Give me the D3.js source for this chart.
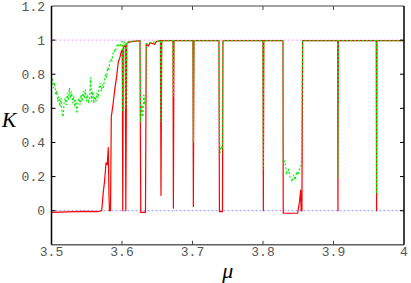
<!DOCTYPE html>
<html>
<head>
<meta charset="utf-8">
<script src="https://cdn.jsdelivr.net/npm/d3@7"></script>
<style>
  body { margin: 0; background: #fff; }
  svg { display: block; }
</style>
</head>
<body>
<svg id="chart"></svg>
<script>
const width = 411
const height = 283

// tick labels
const xTicks = [3.5, 3.6, 3.7, 3.8, 3.9, 4]
const yTicks = [0, 0.2, 0.4, 0.6, 0.8, 1, 1.2]

// red series (solid)
const muRed = [3.5000, 3.5447, 3.5664, 3.5712, 3.5735, 3.5752, 3.5773, 3.5791, 3.5805, 3.5815,
  3.5822, 3.5837, 3.5848, 3.5872, 3.5900, 3.5925, 3.5947, 3.5971, 3.5995, 3.6004,
  3.6011, 3.6018, 3.6047, 3.6054, 3.6066, 3.6113, 3.6255, 3.6266, 3.6333, 3.6344,
  3.6373, 3.6397, 3.6468, 3.6482, 3.6546, 3.6553, 3.6563, 3.6723, 3.6729, 3.6737,
  3.7006, 3.7012, 3.7021, 3.7375, 3.7382, 3.7425, 3.7432, 3.7999, 3.8005, 3.8011,
  3.8283, 3.8287, 3.8491, 3.8517, 3.8534, 3.8541, 3.8552, 3.8562, 3.9058, 3.9063,
  3.9068, 3.9607, 3.9611, 3.9616, 4.0000]
const kRed = [-0.010, -0.004, -0.005, 0.00, 0.11, 0.17, 0.28, 0.27, 0.37, 0.10,
  0.00, 0.00, 0.55, 0.62, 0.72, 0.79, 0.87, 0.90, 0.94, 0.94,
  0.00, 0.96, 0.97, 0.00, 0.98, 0.99, 0.997, -0.010, -0.010, 0.98,
  0.965, 0.985, 0.975, 0.99, 0.997, 0.09, 0.997, 0.997, 0.015, 0.997,
  0.997, 0.025, 0.997, 0.997, -0.005, -0.005, 0.997, 0.997, 0.00, 0.997,
  0.997, -0.015, -0.015, 0.05, 0.12, 0.00, 0.00, 0.997, 0.997, 0.00,
  0.997, 0.997, 0.00, 0.997, 0.997]

// green series (dashed)
const muGreen = [3.5000, 3.5015, 3.5030, 3.5045, 3.5060, 3.5075, 3.5090, 3.5105, 3.5120, 3.5135,
  3.5150, 3.5165, 3.5180, 3.5195, 3.5210, 3.5225, 3.5240, 3.5255, 3.5270, 3.5285,
  3.5300, 3.5315, 3.5330, 3.5345, 3.5360, 3.5375, 3.5390, 3.5405, 3.5420, 3.5435,
  3.5450, 3.5465, 3.5480, 3.5495, 3.5510, 3.5525, 3.5540, 3.5555, 3.5570, 3.5585,
  3.5600, 3.5615, 3.5630, 3.5645, 3.5660, 3.5675, 3.5690, 3.5705, 3.5720, 3.5735,
  3.5750, 3.5767, 3.5782, 3.5797, 3.5812, 3.5827, 3.5842, 3.5857, 3.5872, 3.5887,
  3.5902, 3.5917, 3.5932, 3.5947, 3.5962, 3.5977, 3.5992, 3.6004, 3.6011, 3.6018,
  3.6047, 3.6054, 3.6066, 3.6255, 3.6266, 3.6280, 3.6294, 3.6308, 3.6322, 3.6336,
  3.6344, 3.6546, 3.6553, 3.6563, 3.6723, 3.6729, 3.6737, 3.7006, 3.7012, 3.7021,
  3.7375, 3.7382, 3.7396, 3.7410, 3.7425, 3.7432, 3.7999, 3.8005, 3.8011, 3.8283,
  3.8287, 3.8308, 3.8336, 3.8364, 3.8386, 3.8417, 3.8436, 3.8457, 3.8478, 3.8500,
  3.8521, 3.8545, 3.8562, 3.9058, 3.9063, 3.9068, 3.9607, 3.9611, 3.9616, 4.0000]
const kGreen = [0.74, 0.78, 0.72, 0.75, 0.68, 0.70, 0.64, 0.67, 0.61, 0.66,
  0.58, 0.55, 0.64, 0.66, 0.62, 0.69, 0.65, 0.72, 0.66, 0.70,
  0.63, 0.67, 0.61, 0.65, 0.57, 0.63, 0.66, 0.62, 0.68, 0.64,
  0.70, 0.66, 0.71, 0.64, 0.68, 0.63, 0.66, 0.78, 0.64, 0.70,
  0.63, 0.67, 0.64, 0.69, 0.66, 0.72, 0.75, 0.70, 0.74, 0.72,
  0.76, 0.80, 0.78, 0.84, 0.82, 0.87, 0.89, 0.88, 0.92, 0.94,
  0.93, 0.95, 0.97, 0.96, 0.98, 0.97, 0.99, 0.99, 0.58, 0.98,
  0.99, 0.60, 0.99, 0.997, 0.52, 0.62, 0.55, 0.68, 0.62, 0.70,
  0.98, 0.997, 0.52, 0.997, 0.997, 0.67, 0.997, 0.997, 0.40, 0.997,
  0.997, 0.40, 0.34, 0.38, 0.36, 0.997, 0.997, 0.24, 0.997, 0.997,
  0.28, 0.29, 0.22, 0.24, 0.19, 0.17, 0.21, 0.18, 0.23, 0.21,
  0.25, 0.27, 0.997, 0.997, 0.19, 0.997, 0.997, 0.10, 0.997, 0.997]

const margin = {top: 6, right: 7, bottom: 38.2, left: 51.5}
const monoFont = "Liberation Mono, Courier New, monospace"
const serifFont = "Liberation Serif, Times New Roman, serif"

const svg = d3.select("#chart")
    .attr("width", width)
    .attr("height", height)

const x = d3.scaleLinear()
    .domain([3.5, 4])
    .range([margin.left, width - margin.right])

const y = d3.scaleLinear()
    .domain([-0.2, 1.2])
    .range([height - margin.bottom, margin.top])

const x0 = x.range()[0], x1 = x.range()[1]
const y0 = y.range()[0], y1 = y.range()[1]

// reference lines at K=1 and K=0
svg.append("line")
    .attr("x1", x0).attr("x2", x1)
    .attr("y1", y(1)).attr("y2", y(1))
    .attr("stroke", "#ff99ff")
    .attr("stroke-width", 1)
    .attr("stroke-dasharray", "2,2")
svg.append("line")
    .attr("x1", x0).attr("x2", x1)
    .attr("y1", y(0)).attr("y2", y(0))
    .attr("stroke", "#a8a8ff")
    .attr("stroke-width", 1.2)
    .attr("stroke-dasharray", "2,2")

const line = d3.line()
    .x(d => x(d[0]))
    .y(d => y(d[1]))

svg.append("path")
    .datum(d3.zip(muRed, kRed))
    .attr("fill", "none")
    .attr("stroke", "#ff0000")
    .attr("stroke-width", 1.2)
    .attr("stroke-linejoin", "round")
    .attr("d", line)

svg.append("path")
    .datum(d3.zip(muGreen, kGreen))
    .attr("fill", "none")
    .attr("stroke", "#00ee00")
    .attr("stroke-width", 1.2)
    .attr("stroke-dasharray", "2,2")
    .attr("d", line)

// frame
svg.append("line").attr("x1", x0).attr("x2", x1).attr("y1", y1).attr("y2", y1)
    .attr("stroke", "#808080").attr("stroke-width", 1.6)
svg.append("line").attr("x1", x0).attr("x2", x1).attr("y1", y0).attr("y2", y0)
    .attr("stroke", "#606060").attr("stroke-width", 1.6)
svg.append("line").attr("x1", x0).attr("x2", x0).attr("y1", y1).attr("y2", y0)
    .attr("stroke", "#000").attr("stroke-width", 1.5)
svg.append("line").attr("x1", x1).attr("x2", x1).attr("y1", y1).attr("y2", y0)
    .attr("stroke", "#000").attr("stroke-width", 1.5)

// inward ticks
const yInner = yTicks.filter(v => v > -0.2 && v < 1.2)
svg.append("g").selectAll("line").data(yInner).join("line")
    .attr("x1", x0).attr("x2", x0 + 4)
    .attr("y1", d => y(d)).attr("y2", d => y(d))
    .attr("stroke", "#000")
svg.append("g").selectAll("line").data(yInner).join("line")
    .attr("x1", x1).attr("x2", x1 - 4)
    .attr("y1", d => y(d)).attr("y2", d => y(d))
    .attr("stroke", "#000")
const xInner = xTicks.filter(v => v > 3.5 && v < 4)
svg.append("g").selectAll("line").data(xInner).join("line")
    .attr("x1", d => x(d)).attr("x2", d => x(d))
    .attr("y1", y0).attr("y2", y0 - 4)
    .attr("stroke", "#444")
svg.append("g").selectAll("line").data(xInner).join("line")
    .attr("x1", d => x(d)).attr("x2", d => x(d))
    .attr("y1", y1).attr("y2", y1 + 4)
    .attr("stroke", "#444")

// tick labels
svg.append("g")
    .attr("font-family", monoFont)
    .attr("font-size", 13)
    .attr("fill", "#555")
    .attr("text-anchor", "end")
  .selectAll("text").data(yTicks).join("text")
    .attr("x", 45)
    .attr("y", d => y(d))
    .attr("dy", "0.35em")
    .text(d => d3.format("")(d))

svg.append("g")
    .attr("font-family", monoFont)
    .attr("font-size", 13)
    .attr("fill", "#555")
    .attr("text-anchor", "middle")
  .selectAll("text").data(xTicks).join("text")
    .attr("x", d => x(d))
    .attr("y", y0 + 11)
    .text(d => d3.format("")(d))

// axis titles
svg.append("text")
    .attr("x", 9).attr("y", 127)
    .attr("text-anchor", "middle")
    .attr("font-family", serifFont)
    .attr("font-style", "italic")
    .attr("font-size", 22)
    .text("K")
svg.append("text")
    .attr("x", (x0 + x1) / 2).attr("y", 278)
    .attr("text-anchor", "middle")
    .attr("font-family", serifFont)
    .attr("font-style", "italic")
    .attr("font-size", 22)
    .text("μ")
</script>
</body>
</html>
